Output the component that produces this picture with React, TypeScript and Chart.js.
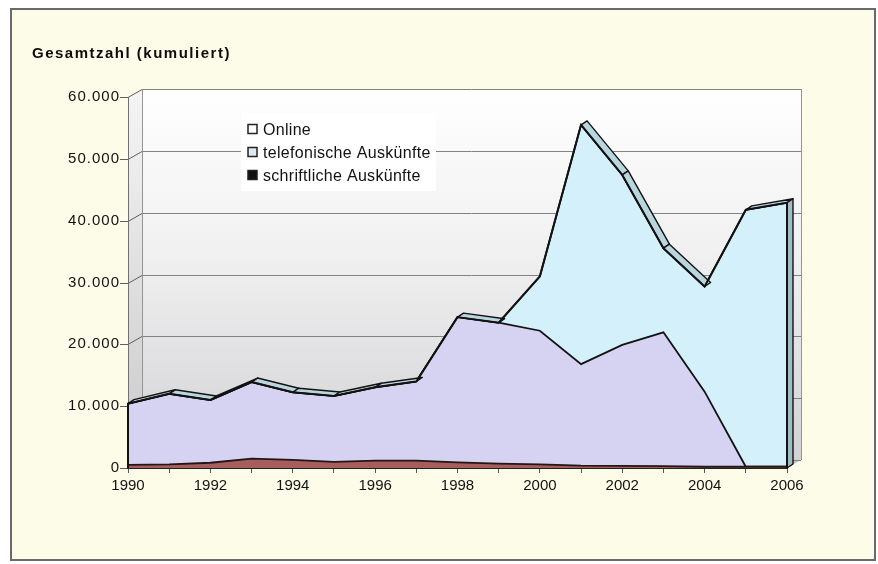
import { useEffect, useRef } from 'react';
import { Chart, registerables } from 'chart.js';

Chart.register(...registerables);

// Years on the category axis (labels every second year)
const years = [
  '1990', '1991', '1992', '1993', '1994', '1995', '1996', '1997', '1998',
  '1999', '2000', '2001', '2002', '2003', '2004', '2005', '2006',
];

// Stacked series, bottom to top
const schriftlicheAuskuenfte = [
  500, 600, 850, 1500, 1300, 1000, 1200, 1200, 900, 700, 600, 400, 350, 300, 200, 200, 200,
];
const telefonischeAuskuenfte = [
  9900, 11400, 10150, 12400, 10950, 10650, 11850, 12800, 23500, 22800, 21600, 16400, 19550,
  21650, 12150, 0, 0,
];
const onlineAuskuenfte = [
  0, 0, 0, 0, 0, 0, 0, 0, 0, 0, 8800, 38700, 27500, 13600, 17000, 41550, 42700,
];

const legendNames = ['Online', 'telefonische Auskünfte', 'schriftliche Auskünfte'];
const titleText = 'Gesamtzahl (kumuliert)';
const yTickValues = [0, 10000, 20000, 30000, 40000, 50000, 60000];

const FONT = '"Liberation Sans", Arial, Helvetica, sans-serif';
const WALL = { dx: 14, dy: -8 }; // depth of the 3D back wall
const DEPTH = { dx: 6, dy: -4 }; // depth of the area band
const INK = '#121212';

const fmt = (v: number) => String(v).replace(/\B(?=(\d{3})+(?!\d))/g, '.');
const crisp = (v: number) => Math.round(v) + 0.5;

const scenePlugin = {
  id: 'scene3d',
  beforeDraw(chart: any) {
    const { ctx, chartArea: a, scales } = chart;
    const y = scales.y;
    ctx.save();
    // page and framed panel
    ctx.fillStyle = '#ffffff';
    ctx.fillRect(0, 0, chart.width, chart.height);
    ctx.fillStyle = '#fdfce8';
    ctx.fillRect(11, 9, 864, 551);
    ctx.strokeStyle = '#6a6a6a';
    ctx.lineWidth = 2;
    ctx.strokeRect(11, 9, 864, 551);

    // heading
    ctx.font = `bold 15px ${FONT}`;
    ctx.fillStyle = '#0c0c0c';
    ctx.textAlign = 'left';
    ctx.textBaseline = 'alphabetic';
    ctx.letterSpacing = '1.5px';
    ctx.fillText(titleText, 32, 57.5);
    ctx.letterSpacing = '0px';

    const bl = a.left + WALL.dx;
    const bt = a.top + WALL.dy;
    const br = a.right + WALL.dx;
    const bb = a.bottom + WALL.dy;

    // back wall
    const g = ctx.createLinearGradient(0, bt, 0, bb);
    g.addColorStop(0, '#ffffff');
    g.addColorStop(0.45, '#f0f0f1');
    g.addColorStop(1, '#d2d2d4');
    ctx.fillStyle = g;
    ctx.fillRect(bl, bt, br - bl, bb - bt);

    // left side wall
    const gs = ctx.createLinearGradient(0, a.top, 0, a.bottom);
    gs.addColorStop(0, '#f4f4f4');
    gs.addColorStop(1, '#c9c9cb');
    ctx.fillStyle = gs;
    ctx.beginPath();
    ctx.moveTo(a.left, a.top);
    ctx.lineTo(bl, bt);
    ctx.lineTo(bl, bb);
    ctx.lineTo(a.left, a.bottom);
    ctx.closePath();
    ctx.fill();

    // floor
    ctx.fillStyle = '#c4c4c6';
    ctx.beginPath();
    ctx.moveTo(a.left, a.bottom);
    ctx.lineTo(a.right, a.bottom);
    ctx.lineTo(br, bb);
    ctx.lineTo(bl, bb);
    ctx.closePath();
    ctx.fill();

    // gridlines on the back wall and slanted ticks on the side wall
    ctx.lineWidth = 1;
    for (const v of yTickValues) {
      const py = y.getPixelForValue(v);
      ctx.strokeStyle = '#828282';
      ctx.beginPath();
      ctx.moveTo(bl, crisp(py + WALL.dy));
      ctx.lineTo(br, crisp(py + WALL.dy));
      ctx.stroke();
      ctx.strokeStyle = '#5e5e5e';
      ctx.beginPath();
      ctx.moveTo(a.left - 8, crisp(py));
      ctx.lineTo(a.left, crisp(py));
      ctx.lineTo(bl, crisp(py + WALL.dy));
      ctx.stroke();
    }

    // wall edges
    ctx.strokeStyle = '#707070';
    ctx.beginPath();
    ctx.moveTo(crisp(a.left), a.top);
    ctx.lineTo(crisp(a.left), a.bottom);
    ctx.stroke();
    ctx.strokeStyle = '#949494';
    ctx.beginPath();
    ctx.moveTo(crisp(bl), bt);
    ctx.lineTo(crisp(bl), bb);
    ctx.moveTo(crisp(br), bt);
    ctx.lineTo(crisp(br), bb);
    ctx.stroke();
    ctx.restore();
  },

  afterDatasetsDraw(chart: any) {
    const { ctx, scales } = chart;
    const x = scales.x;
    const y = scales.y;
    const y0 = y.getPixelForValue(0);
    const pts = years.map((_, i) => ({
      x: x.getPixelForValue(i),
      y: y.getPixelForValue(
        schriftlicheAuskuenfte[i] + telefonischeAuskuenfte[i] + onlineAuskuenfte[i]
      ),
    }));

    ctx.save();
    ctx.lineJoin = 'round';
    ctx.lineWidth = 1.4;
    ctx.strokeStyle = INK;

    // top band of the stacked area, only where it faces the viewer
    for (let i = 0; i < pts.length - 1; i++) {
      const p = pts[i];
      const q = pts[i + 1];
      const sx = q.x - p.x;
      const sy = q.y - p.y;
      if (-DEPTH.dy * sx + DEPTH.dx * sy <= 0) continue;
      ctx.fillStyle = '#b9d5de';
      ctx.beginPath();
      ctx.moveTo(p.x, p.y);
      ctx.lineTo(q.x, q.y);
      ctx.lineTo(q.x + DEPTH.dx, q.y + DEPTH.dy);
      ctx.lineTo(p.x + DEPTH.dx, p.y + DEPTH.dy);
      ctx.closePath();
      ctx.fill();
      ctx.stroke();
    }

    // right side face of the band
    const last = pts[pts.length - 1];
    ctx.fillStyle = '#a2bcc4';
    ctx.beginPath();
    ctx.moveTo(last.x, y0);
    ctx.lineTo(last.x, last.y);
    ctx.lineTo(last.x + DEPTH.dx, last.y + DEPTH.dy);
    ctx.lineTo(last.x + DEPTH.dx, y0 + DEPTH.dy);
    ctx.closePath();
    ctx.fill();
    ctx.stroke();

    // front edges
    ctx.lineWidth = 2;
    ctx.beginPath();
    ctx.moveTo(pts[0].x, y0);
    ctx.lineTo(pts[0].x, pts[0].y);
    for (const p of pts) ctx.lineTo(p.x, p.y);
    ctx.lineTo(last.x, y0);
    ctx.stroke();
    ctx.restore();

    // the y tick labels are drawn after the datasets (ticks.z = 1) with wider spacing
    ctx.letterSpacing = '1px';
  },

  afterDraw(chart: any) {
    const { ctx } = chart;
    ctx.letterSpacing = '0px';
    ctx.save();

    // legend panel
    ctx.fillStyle = '#ffffff';
    ctx.fillRect(241, 113, 195, 78);

    const swatchFill = ['#ffffff', '#dfe8ec', '#121212'];
    const baselines = [134.5, 157.5, 180.5];
    ctx.font = `16px ${FONT}`;
    ctx.textAlign = 'left';
    ctx.textBaseline = 'alphabetic';
    ctx.letterSpacing = '0.3px';
    legendNames.forEach((name, i) => {
      const b = baselines[i];
      ctx.fillStyle = swatchFill[i];
      ctx.fillRect(248, b - 10, 9, 9);
      ctx.strokeStyle = '#222222';
      ctx.lineWidth = 1.5;
      ctx.strokeRect(248, b - 10, 9, 9);
      ctx.fillStyle = INK;
      ctx.fillText(name, 263, b);
    });
    ctx.restore();
  },
};

export default function App() {
  const canvasRef = useRef<HTMLCanvasElement>(null);

  useEffect(() => {
    const canvas = canvasRef.current;
    if (!canvas) return;
    const chart = new Chart(canvas, {
      type: 'line',
      data: {
        labels: years,
        datasets: [
          {
            label: legendNames[2],
            data: schriftlicheAuskuenfte,
            backgroundColor: '#a65e5c',
            borderColor: '#241616',
            borderWidth: 1.8,
            fill: 'origin',
            pointRadius: 0,
            tension: 0,
          },
          {
            label: legendNames[1],
            data: telefonischeAuskuenfte,
            backgroundColor: '#d5d3f1',
            borderColor: INK,
            borderWidth: 1.8,
            fill: '-1',
            pointRadius: 0,
            tension: 0,
          },
          {
            label: legendNames[0],
            data: onlineAuskuenfte,
            backgroundColor: '#d3f0fb',
            borderColor: INK,
            borderWidth: 1.8,
            fill: '-1',
            pointRadius: 0,
            tension: 0,
          },
        ],
      },
      options: {
        responsive: false,
        animation: false,
        events: [],
        layout: { padding: { left: 0, right: 91, top: 97, bottom: 0 } },
        plugins: {
          legend: { display: false },
          title: { display: false },
          tooltip: { enabled: false },
        },
        scales: {
          x: {
            type: 'category',
            offset: false,
            grid: {
              display: true,
              drawOnChartArea: false,
              drawTicks: true,
              tickLength: 5,
              color: '#5a5a5a',
            },
            border: { display: true, color: '#222222', width: 2 },
            ticks: {
              autoSkip: false,
              maxRotation: 0,
              padding: 4,
              color: INK,
              font: { family: FONT, size: 15 },
              callback: (_v: any, i: number) => (i % 2 === 0 ? years[i] : ''),
            },
            afterFit: (scale: any) => {
              scale.height = 96;
            },
          },
          y: {
            stacked: true,
            min: 0,
            max: 60000,
            grid: { display: false, drawTicks: false },
            border: { display: false },
            ticks: {
              stepSize: 10000,
              padding: 8,
              z: 1,
              color: INK,
              font: { family: FONT, size: 15 },
              callback: (v: any) => fmt(Number(v)),
            },
            afterFit: (scale: any) => {
              scale.width = 128;
            },
          },
        },
      },
      plugins: [scenePlugin],
    });
    return () => chart.destroy();
  }, []);

  return (
    <div style={{ position: 'absolute', left: 0, top: 0, width: 878, height: 564 }}>
      <canvas ref={canvasRef} width={878} height={564} style={{ display: 'block' }} />
    </div>
  );
}
